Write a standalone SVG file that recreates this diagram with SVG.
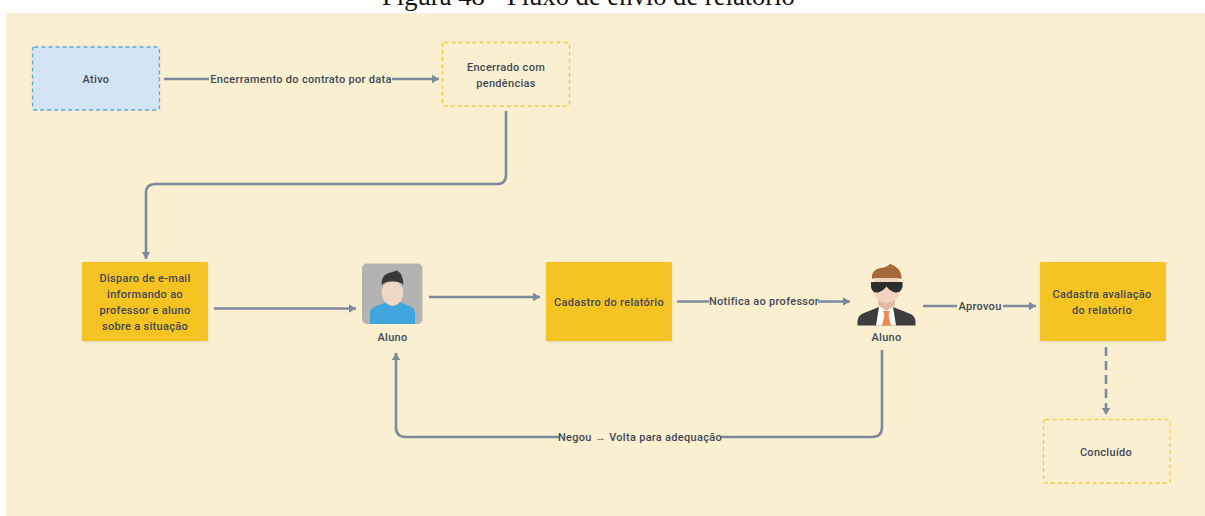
<svg xmlns="http://www.w3.org/2000/svg" width="1205" height="516" viewBox="0 0 1205 516">
<style>
text{font-family:Roboto,"Noto Sans","Liberation Sans",sans-serif;font-size:11px;font-weight:500;letter-spacing:.3px;fill:#3f4a56;text-anchor:middle}
.title{font-family:"Liberation Serif",serif;font-size:26.600px;font-weight:400;letter-spacing:0;fill:#111}
.c{fill:none;stroke:#7b8b9d;stroke-width:2.600;marker-end:url(#a)}
.y{fill:#f5c324}
.d{fill:none;stroke:#f8c93e;stroke-width:1.300;stroke-dasharray:4 3}
.b{fill:#faefd0}
</style>
<defs>
<marker id="a" markerUnits="userSpaceOnUse" markerWidth="8" markerHeight="10" refX="7" refY="5" orient="auto"><path d="M0 .8L7 5 0 9.2z" fill="#7b8b9d"/></marker>
<filter id="s" x="-5%" y="-5%" width="110%" height="110%"><feDropShadow dx="0" dy="1" stdDeviation="1" flood-opacity=".12"/></filter>
</defs>
<rect width="1205" height="516" fill="#fff"/>
<rect x="6" y="13" width="1199" height="503" fill="#faefd0"/>
<text class="title" x="588.500" y="5">Figura 48 - Fluxo de envio de relatório</text>
<g id="connectors">
<path class="c" d="M164 79H439"/>
<path class="c" d="M506 111V175Q506 184 497 184H155Q146 184 146 193V259"/>
<path class="c" d="M214 308.500H356"/>
<path class="c" d="M429 297H540"/>
<path class="c" d="M677 301.500H850"/>
<path class="c" d="M923 306H1036"/>
<path class="c" d="M1106 347V415" stroke-dasharray="9 5"/>
<path class="c" d="M882 350V427Q882 437 872 437H406Q396 437 396 427V353"/>
<rect class="b" x="209" y="72" width="183" height="14"/>
<rect class="b" x="709" y="295" width="109" height="14"/>
<rect class="b" x="957" y="299" width="46" height="14"/>
<rect class="b" x="559" y="430" width="162" height="14"/>
<text x="301" y="82.800">Encerramento do contrato por data</text>
<text x="764" y="305.300">Notifica ao professor</text>
<text x="980" y="310">Aprovou</text>
<text x="640" y="441">Negou → Volta para adequação</text>
</g>
<g id="ativo"><rect x="32.500" y="47" width="127" height="63" rx="2" fill="#d3e4f4" stroke="#5aa5e6" stroke-width="1.300" stroke-dasharray="4 3"/><text x="96" y="83">Ativo</text></g>
<g id="encerrado"><rect class="d" x="442.500" y="42.500" width="127" height="63.500" rx="2"/><text x="506" y="70.500">Encerrado com</text><text x="506" y="86.500">pendências</text></g>
<g id="disparo"><rect class="y" filter="url(#s)" x="82" y="262" width="126" height="79" rx="1.500"/><text x="145" y="282">Disparo de e-mail</text><text x="145" y="298">informando ao</text><text x="145" y="314">professor e aluno</text><text x="145" y="330">sobre a situação</text></g>
<g id="aluno1">
<rect x="362" y="263.500" width="60.500" height="60.500" rx="5" fill="#b3b3b3"/>
<path d="M370 324V312Q371 308 376 306L387 302H399L410 306Q414.500 308 415 312V324z" fill="#3fa5dc"/>
<path d="M386 295H399V303Q393 309 386 303z" fill="#d9b79c"/>
<ellipse cx="392.500" cy="293" rx="10.800" ry="12.500" fill="#f0d6c4"/>
<path d="M381.700 285Q381 275 389 273L397 270.500Q403.500 274 403.300 285Q400 281 392 281.500Q385 281.500 381.700 285z" fill="#3a3a3a"/>
<text x="392.500" y="340.500">Aluno</text>
</g>
<g id="cadastro"><rect class="y" filter="url(#s)" x="546" y="262" width="126" height="79" rx="1.500"/><text x="609" y="305.500">Cadastro do relatório</text></g>
<g id="aluno2">
<path d="M857.500 325.500V321Q858 315 864 313L879 307H893L908 313Q915 315 915.500 321V325.500z" fill="#3d3d3d"/>
<path d="M879 307H893L896 325.500H876z" fill="#fff"/>
<path d="M883 311H890L888.500 315L891 325.500H882L884.500 315z" fill="#f08c4a"/>
<path d="M878 297H895V305L886.500 311L878 305z" fill="#e0bba2"/>
<ellipse cx="886.500" cy="288" rx="14" ry="15" fill="#f1d3c0"/>
<path d="M872 279Q871 270 880 268Q886 268 890 264Q902 268 901.500 279Q898 278 896 278H877Q874 278 872 279z" fill="#a5683a"/>
<path d="M871 282H902.500V287Q901 293 895 292.500Q890 291 886.500 286.500Q883 291 878 292.500Q872 293 871 287z" fill="#2d2d2d"/>
<text x="886.500" y="340.500">Aluno</text>
</g>
<g id="avaliacao"><rect class="y" filter="url(#s)" x="1040" y="262" width="126" height="79" rx="1.500"/><text x="1102" y="298">Cadastra avaliação</text><text x="1102" y="313.500">do relatório</text></g>
<g id="concluido"><rect class="d" x="1043.500" y="419.500" width="126.500" height="63.500" rx="2"/><text x="1106" y="455.500">Concluído</text></g>
</svg>
